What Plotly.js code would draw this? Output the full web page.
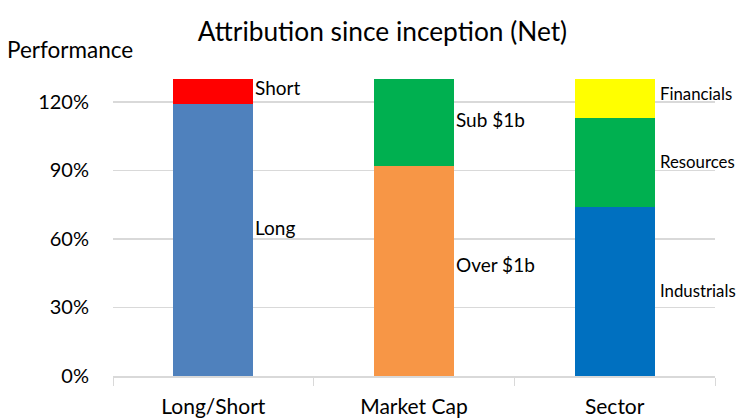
<!DOCTYPE html>
<html>
<head>
<meta charset="utf-8">
<script src="https://cdn.plot.ly/plotly-3.0.1.min.js"></script>
<style>html,body{margin:0;padding:0;background:#fff;}#chart{width:737px;height:418px;}</style>
</head>
<body>
<div id="chart"></div>
<script>
// Data
const categories = ["Long/Short", "Market Cap", "Sector"];
const seriesNames = ["Long", "Short", "Over $1b", "Sub $1b", "Industrials", "Resources", "Financials"];
const seriesCategory = ["Long/Short", "Long/Short", "Market Cap", "Market Cap", "Sector", "Sector", "Sector"];
const seriesValues = [119, 11, 92, 38, 74, 39, 17];
const seriesColors = ["#4F81BD", "#FF0000", "#F79646", "#00B050", "#0070C0", "#00B050", "#FFFF00"];
const yTickVals = [0, 30, 60, 90, 120];
const yTickText = ["0%", "30%", "60%", "90%", "120%"];

const FONT = "Lato, 'Open Sans', sans-serif";
const labelYShift = {"Long": 13, "Short": 4, "Over $1b": 6, "Financials": 5, "Resources": 1, "Industrials": 1};
const traces = [];
const annotations = [];
const base = {};
seriesNames.forEach((name, i) => {
  const cat = seriesCategory[i];
  const b = base[cat] || 0;
  traces.push({
    type: "bar",
    x: [cat],
    y: [seriesValues[i]],
    name: name,
    marker: {color: seriesColors[i]},
    width: 0.4,
    hoverinfo: "x+y+name"
  });
  const isSector = cat === "Sector";
  annotations.push({
    x: cat, y: b + seriesValues[i] / 2,
    xref: "x", yref: "y",
    text: name, showarrow: false,
    xanchor: "left", yanchor: "middle",
    xshift: isSector ? 43 : 40,
    yshift: labelYShift[name] !== undefined ? labelYShift[name] : 3,
    font: {family: FONT, size: isSector ? 16.8 : 19, color: "#000"}
  });
  base[cat] = b + seriesValues[i];
});

annotations.push({
  xref: "paper", yref: "paper", x: -0.18, y: 1.0, yshift: 30,
  xanchor: "left", yanchor: "middle",
  text: "Performance", showarrow: false,
  font: {family: FONT, size: 22.5, color: "#000"}
});

const layout = {
  width: 737, height: 418,
  margin: {l: 113, r: 22, t: 79, b: 42, autoexpand: false},
  barmode: "stack",
  showlegend: false,
  paper_bgcolor: "#fff", plot_bgcolor: "#fff",
  title: {text: "Attribution since inception (Net)", x: 0.519, xanchor: "center", y: 0.925, yanchor: "middle",
          font: {family: FONT, size: 26.3, color: "#000"}},
  xaxis: {
    type: "category", categoryorder: "array", categoryarray: categories,
    range: [-0.5, categories.length - 0.5], autorange: false,
    tickson: "boundaries", ticks: "outside", ticklen: 8, tickcolor: "#d9d9d9", tickwidth: 1,
    showline: true, linecolor: "#d9d9d9", linewidth: 1.5,
    showgrid: false, zeroline: false, automargin: false,
    ticklabelstandoff: 11,
    tickfont: {family: FONT, size: 21, color: "#000"}
  },
  yaxis: {
    range: [0, 130], autorange: false, tickvals: yTickVals, ticktext: yTickText,
    showgrid: true, gridcolor: "#d9d9d9", gridwidth: 1.5,
    zeroline: false, showline: false, ticks: "", automargin: false,
    ticklabelstandoff: 23,
    tickfont: {family: FONT, size: 20, color: "#000"}
  },
  annotations: annotations
};

Plotly.newPlot("chart", traces, layout, {displayModeBar: false, staticPlot: true});
</script>
</body>
</html>
